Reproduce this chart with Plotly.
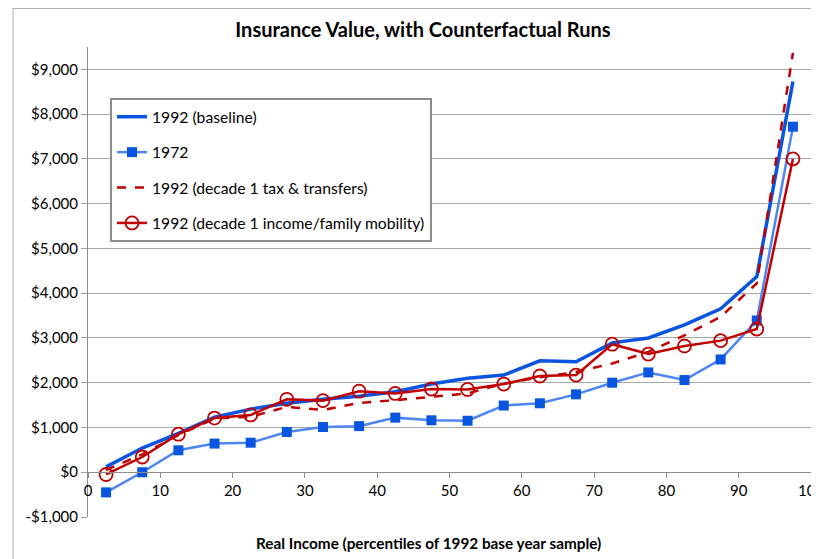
import plotly.graph_objects as go

x_pct = [2.5, 7.5, 12.5, 17.5, 22.5, 27.5, 32.5, 37.5, 42.5, 47.5,
         52.5, 57.5, 62.5, 67.5, 72.5, 77.5, 82.5, 87.5, 92.5, 97.5]

baseline_1992 = [120, 540, 870, 1230, 1410, 1540, 1630, 1700, 1800, 1970,
                 2100, 2170, 2490, 2470, 2890, 3000, 3290, 3650, 4370, 8730]
val_1972 = [-450, 0, 490, 640, 660, 900, 1010, 1030, 1220, 1160,
            1150, 1490, 1540, 1740, 2000, 2230, 2060, 2520, 3390, 7720]
tax_transfers = [50, 400, 830, 1200, 1240, 1460, 1390, 1550, 1610, 1690,
                 1760, 1980, 2120, 2240, 2430, 2690, 3060, 3470, 4220, 9370]
mobility = [-50, 340, 850, 1210, 1280, 1630, 1600, 1810, 1760, 1860,
            1850, 1970, 2150, 2170, 2860, 2640, 2820, 2940, 3200, 7000]

y_tickvals = [-1000, 0, 1000, 2000, 3000, 4000, 5000, 6000, 7000, 8000, 9000]
y_ticktext = ["-$1,000", "$0", "$1,000", "$2,000", "$3,000", "$4,000",
              "$5,000", "$6,000", "$7,000", "$8,000", "$9,000"]
x_tickvals = [0, 10, 20, 30, 40, 50, 60, 70, 80, 90, 100]

FONT = "Lato"
BLUE = "#0A55E0"
LBLUE = "#4D85F5"
RED = "#C00000"

# page body has an 8px default margin; figure is sized/positioned to compensate
W, H = 811, 551
L, R, T, B = 80, 8, 39, 42
PW, PH = W - L - R, H - T - B


def px(xp):
    return (xp - 8 - L) / PW


def py(yp):
    return (H - B - (yp - 8)) / PH


fig = go.Figure()
fig.add_trace(go.Scatter(x=x_pct, y=baseline_1992, mode="lines", name="1992 (baseline)",
                         line=dict(color=BLUE, width=3.5), legendgroup="a"))
fig.add_trace(go.Scatter(x=x_pct, y=val_1972, mode="lines+markers", name="1972",
                         line=dict(color=LBLUE, width=2.5),
                         marker=dict(symbol="square", size=10, color=BLUE), legendgroup="b"))
fig.add_trace(go.Scatter(x=x_pct, y=tax_transfers, mode="lines", name="1992 (decade 1 tax & transfers)",
                         line=dict(color=RED, width=2.5, dash="dash"), legendgroup="c"))
fig.add_trace(go.Scatter(x=x_pct, y=mobility, mode="lines+markers",
                         name="1992 (decade 1 income/family mobility)",
                         line=dict(color=RED, width=2.5),
                         marker=dict(symbol="circle-open", size=13, color=RED, line=dict(width=1.8)),
                         legendgroup="d"))

y_min, y_max = -1000, 9500
fig.update_layout(
    width=W, height=H,
    margin=dict(l=L, r=R, t=T, b=B, autoexpand=False),
    paper_bgcolor="white", plot_bgcolor="white",
    font=dict(family=FONT, size=15, color="#000000"),
    title=dict(text="<b>Insurance Value, with Counterfactual Runs</b>",
               x=px(423), xanchor="center", xref="paper", y=1 - (30 - 8) / H, yanchor="middle",
               font=dict(family=FONT, size=20, color="#000000")),
    showlegend=True,
    legend=dict(x=px(110), y=py(98), xanchor="left", yanchor="top",
                bgcolor="white", bordercolor="#8C8C8C", borderwidth=2,
                font=dict(family=FONT, size=15.7, color="#000000"),
                tracegroupgap=12, itemwidth=30),
    xaxis=dict(range=[0, 100], tickvals=x_tickvals, ticks="outside", ticklen=5,
               tickcolor="#8C8C8C", showgrid=False, showline=True, linecolor="#8C8C8C",
               linewidth=1, zeroline=False, anchor="free",
               position=(0 - y_min) / (y_max - y_min),
               ticklabeloverflow="allow",
               tickfont=dict(family=FONT, size=15)),
    yaxis=dict(range=[y_min, y_max], tickvals=y_tickvals, ticktext=y_ticktext,
               ticks="outside", ticklen=6, tickcolor="#A0A0A0",
               showgrid=True, gridcolor="#A8A8A8", gridwidth=1,
               showline=True, linecolor="#8C8C8C", linewidth=1, zeroline=False,
               tickfont=dict(family=FONT, size=15)),
    annotations=[dict(text="<b>Real Income (percentiles of 1992 base year sample)</b>",
                      x=px(428), y=py(543), xref="paper", yref="paper",
                      xanchor="center", yanchor="middle", showarrow=False,
                      font=dict(family=FONT, size=15.3, color="#000000"))],
    shapes=[dict(type="rect", xref="paper", yref="paper",
                 x0=px(13), x1=px(840),
                 y0=py(580), y1=py(8.5),
                 line=dict(color="#B0B0B0", width=1), layer="below")],
)

fig.write_html("out.html")
